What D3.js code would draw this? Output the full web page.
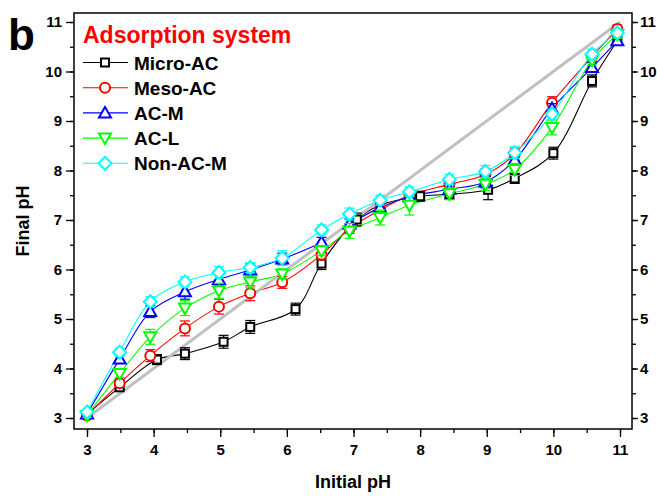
<!DOCTYPE html>
<html><head><meta charset="utf-8">
<script src="https://cdn.jsdelivr.net/npm/d3@7"></script>
<style>body{margin:0;background:#fff}text{font-family:"Liberation Sans",Arial,sans-serif;font-weight:bold}</style>
</head><body><svg id="c" width="657" height="496"></svg>
<script>
const seriesNames = ["Micro-AC","Meso-AC","AC-M","AC-L","Non-AC-M"];
const seriesColors = ["#000000","#ff0000","#0000ff","#00ff00","#00ffff"];
const seriesSymbols = ["square","circle","triangleUp","triangleDown","diamond"];
const xMicro = [3.0,3.49,4.05,4.47,5.05,5.45,6.13,6.52,7.05,7.40,8.0,8.44,9.02,9.42,10.0,10.58,10.96];
const xShared = [3.0,3.49,3.95,4.47,4.98,5.45,5.93,6.52,6.94,7.40,7.84,8.44,8.98,9.42,9.98,10.58,10.96];
const yMicro = [3.08,3.62,4.18,4.30,4.54,4.84,5.20,6.12,7.01,7.30,7.48,7.52,7.61,7.84,8.35,9.81,10.62];
const yMeso  = [3.05,3.70,4.26,4.81,5.25,5.52,5.74,6.30,6.83,7.20,7.50,7.72,7.92,8.33,9.37,10.30,10.86];
const yACM   = [3.08,4.19,5.15,5.55,5.80,5.99,6.21,6.55,6.92,7.25,7.47,7.62,7.77,8.21,9.25,10.08,10.62];
const yACL   = [3.05,3.90,4.64,5.22,5.57,5.75,5.91,6.38,6.78,7.05,7.30,7.53,7.72,8.02,8.87,10.23,10.75];
const yNonACM= [3.12,4.33,5.35,5.75,5.94,6.04,6.23,6.80,7.12,7.40,7.57,7.82,7.98,8.36,9.14,10.35,10.78];
const eMicro = [0.05,0.05,0.1,0.12,0.13,0.13,0.12,0.12,0.13,0.14,0.1,0.1,0.2,0.1,0.12,0.12,0.08];
const eMeso  = [0.04,0.08,0.12,0.15,0.15,0.15,0.12,0.1,0.1,0.12,0.1,0.12,0.12,0.12,0.12,0.1,0.08];
const eACM   = [0.04,0.08,0.12,0.15,0.12,0.12,0.12,0.1,0.1,0.12,0.1,0.1,0.12,0.12,0.1,0.1,0.08];
const eACL   = [0.04,0.08,0.15,0.15,0.15,0.12,0.1,0.1,0.15,0.15,0.2,0.12,0.12,0.12,0.15,0.1,0.08];
const eNonACM= [0.04,0.08,0.1,0.1,0.12,0.1,0.15,0.1,0.12,0.1,0.1,0.1,0.12,0.12,0.1,0.1,0.08];
const xTicks = [3,4,5,6,7,8,9,10,11];
const yTicks = [3,4,5,6,7,8,9,10,11];
const refLine = [3,11];

const series = [
  {x:xMicro,y:yMicro,e:eMicro},{x:xShared,y:yMeso,e:eMeso},{x:xShared,y:yACM,e:eACM},
  {x:xShared,y:yACL,e:eACL},{x:xShared,y:yNonACM,e:eNonACM}
].map((s,i)=>({...s,name:seriesNames[i],color:seriesColors[i],sym:seriesSymbols[i]}));

const svg = d3.select("#c");
const L=74,R=632,T=13,B=429;
const x = d3.scaleLinear().domain([3,11]).range([87,620]);
const y = d3.scaleLinear().domain([3,11]).range([418,22]);

const minor = d3.range(3,11.01,0.5);
const ax = svg.append("g");
ax.append("rect").attr("x",L).attr("y",T).attr("width",R-L).attr("height",B-T).attr("fill","none").attr("stroke","#000").attr("stroke-width",1.5);
const styleTxt = g=>{g.select(".domain").remove();g.selectAll("line").attr("stroke-width",1.3);g.selectAll("text").attr("font-size",15).attr("font-family","Liberation Sans").attr("font-weight","bold").attr("fill","#000");};
ax.append("g").attr("transform",`translate(0,${B})`).call(d3.axisBottom(x).tickValues(minor).tickSize(4).tickFormat("")).call(styleTxt);
ax.append("g").attr("transform",`translate(0,${B})`).call(d3.axisBottom(x).tickValues(xTicks).tickSize(8).tickPadding(7).tickFormat(d3.format("d"))).call(styleTxt);
ax.append("g").attr("transform",`translate(${L},0)`).call(d3.axisLeft(y).tickValues(minor).tickSize(4).tickFormat("")).call(styleTxt);
ax.append("g").attr("transform",`translate(${L},0)`).call(d3.axisLeft(y).tickValues(yTicks).tickSize(8).tickPadding(4).tickFormat(d3.format("d"))).call(styleTxt);
ax.append("g").attr("transform",`translate(${R},0)`).call(d3.axisRight(y).tickValues(minor).tickSize(4).tickFormat("")).call(styleTxt);
ax.append("g").attr("transform",`translate(${R},0)`).call(d3.axisRight(y).tickValues(yTicks).tickSize(6).tickPadding(2).tickFormat(d3.format("d"))).call(styleTxt);

const line = d3.line().x(d=>x(d[0])).y(d=>y(d[1])).curve(d3.curveCatmullRom.alpha(0.5));
series.forEach(s=>{
  svg.append("path").datum(s.x.map((v,i)=>[v,s.y[i]])).attr("d",line).attr("fill","none").attr("stroke",s.color).attr("stroke-width",1.1);
});
svg.append("line").attr("x1",x(refLine[0])).attr("y1",y(refLine[0])).attr("x2",x(refLine[1])).attr("y2",y(refLine[1]))
  .attr("stroke","#c0c0c0").attr("stroke-width",3);

function sym(g,type,cx,cy,color){
  const s=9;
  if(type==="square") g.append("rect").attr("x",cx-s/2+0.5).attr("y",cy-s/2+0.5).attr("width",s-1).attr("height",s-1);
  else if(type==="circle") g.append("circle").attr("cx",cx).attr("cy",cy).attr("r",5);
  else if(type==="triangleUp") g.append("path").attr("d",`M${cx},${cy-6}L${cx+6},${cy+4.5}L${cx-6},${cy+4.5}Z`);
  else if(type==="triangleDown") g.append("path").attr("d",`M${cx},${cy+6}L${cx+6},${cy-4.5}L${cx-6},${cy-4.5}Z`);
  else if(type==="diamond") g.append("path").attr("d",`M${cx},${cy-6.5}L${cx+6.5},${cy}L${cx},${cy+6.5}L${cx-6.5},${cy}Z`);
  g.selectAll("*").attr("fill","#fff").attr("stroke",color).attr("stroke-width",2);
}
series.forEach(s=>{
  const g=svg.append("g");
  s.x.forEach((xv,i)=>{
    const cx=x(xv), y1=y(s.y[i]+s.e[i]), y2=y(s.y[i]-s.e[i]);
    g.append("line").attr("x1",cx).attr("x2",cx).attr("y1",y1).attr("y2",y2).attr("stroke",s.color).attr("stroke-width",1.2);
    [y1,y2].forEach(yy=>g.append("line").attr("x1",cx-5).attr("x2",cx+5).attr("y1",yy).attr("y2",yy).attr("stroke",s.color).attr("stroke-width",1.2));
  });
  s.x.forEach((xv,i)=>sym(g.append("g"),s.sym,x(xv),y(s.y[i]),s.color));
});

svg.append("text").attr("x",83).attr("y",43).attr("fill","#ff0000").attr("font-size",23).text("Adsorption system");
series.forEach((s,i)=>{
  const ly=62.5+i*25.2;
  svg.append("line").attr("x1",83).attr("x2",128).attr("y1",ly).attr("y2",ly).attr("stroke",s.color).attr("stroke-width",1.1);
  sym(svg.append("g"),s.sym,105,ly,s.color);
  svg.append("text").attr("x",134).attr("y",ly+7).attr("font-size",19).attr("fill","#000").text(s.name);
});

svg.append("text").attr("x",8).attr("y",50).attr("font-size",44).text("b");
svg.append("text").attr("x",353).attr("y",488).attr("text-anchor","middle").attr("font-size",18).text("Initial pH");
svg.append("text").attr("transform","translate(29,221) rotate(-90)").attr("text-anchor","middle").attr("font-size",18).text("Final pH");
</script></body></html>
